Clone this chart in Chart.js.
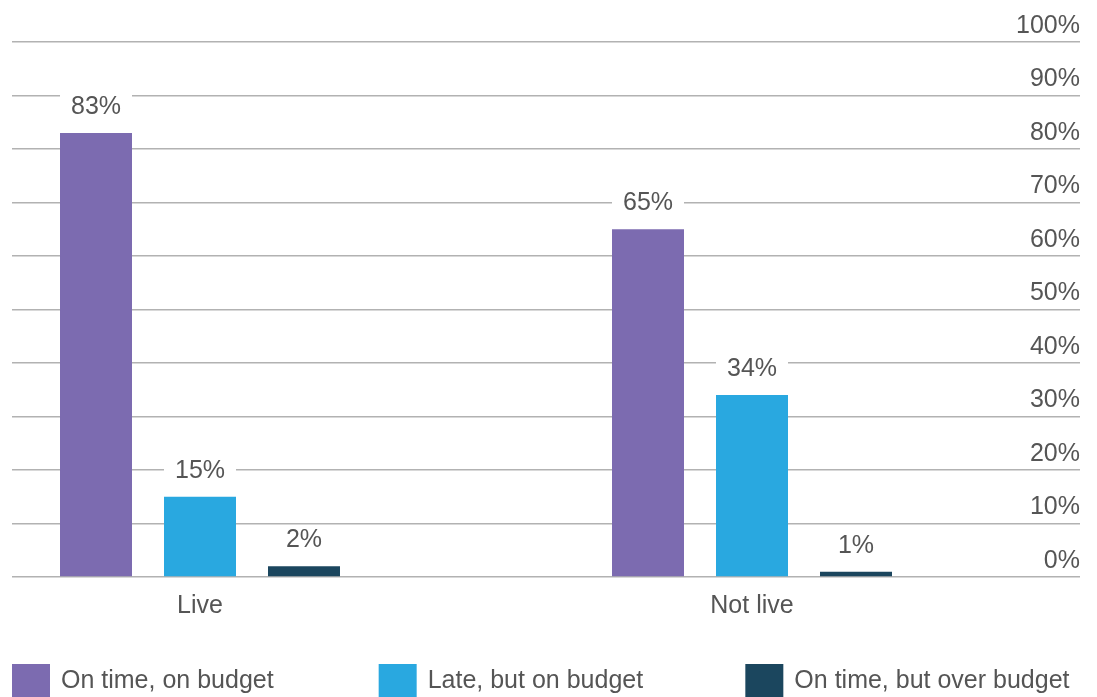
<!DOCTYPE html>
<html>
<head>
<meta charset="utf-8">
<script src="https://cdn.jsdelivr.net/npm/chart.js@4"></script>
<style>
  html, body { margin: 0; padding: 0; background: #fff; overflow: hidden; }
  #wrap { width: 1097px; height: 697px; }
</style>
</head>
<body>
<div id="wrap"><canvas id="c" width="1097" height="697"></canvas></div>
<script>
const categories = ['Live', 'Not live'];
const seriesNames = ['On time, on budget', 'Late, but on budget', 'On time, but over budget'];
const onTimeOnBudget = [83, 65];
const lateOnBudget = [15, 34];
const onTimeOverBudget = [2, 1];
const yTicks = [0, 10, 20, 30, 40, 50, 60, 70, 80, 90, 100];
const colors = ['#7C6BB0', '#29A8E0', '#1B465E'];

const FONT = 'Liberation Sans, Arial, sans-serif';
const TEXT = '#555555';

function toPoints(arr) { return arr.map((v, i) => ({ x: i, y: v })); }

const valueLabels = {
  id: 'valueLabels',
  afterDatasetsDraw(chart) {
    const ctx = chart.ctx;
    ctx.save();
    ctx.font = '25px ' + FONT;
    ctx.textAlign = 'center';
    ctx.textBaseline = 'middle';
    chart.data.datasets.forEach((ds, di) => {
      const meta = chart.getDatasetMeta(di);
      meta.data.forEach((bar, i) => {
        const cy = bar.y - 26;
        ctx.fillStyle = '#ffffff';
        ctx.fillRect(bar.x - bar.width / 2, cy - 14, bar.width, 28);
        ctx.fillStyle = TEXT;
        ctx.fillText(ds.data[i].y + '%', bar.x, cy);
      });
    });
    ctx.restore();
  }
};

const bottomLegend = {
  id: 'bottomLegend',
  afterDraw(chart) {
    const ctx = chart.ctx;
    const area = chart.chartArea;
    const colW = (area.right - area.left + 32) / 3;
    const top = 664;
    ctx.save();
    ctx.font = '25px ' + FONT;
    ctx.textAlign = 'left';
    ctx.textBaseline = 'middle';
    chart.data.datasets.forEach((ds, i) => {
      const x = area.left + i * colW;
      ctx.fillStyle = ds.backgroundColor;
      ctx.fillRect(x, top, 38, 34);
      ctx.fillStyle = TEXT;
      ctx.fillText(ds.label, x + 49, top + 17);
    });
    ctx.restore();
  }
};

new Chart(document.getElementById('c'), {
  type: 'bar',
  data: {
    datasets: [
      { label: seriesNames[0], data: toPoints(onTimeOnBudget), backgroundColor: colors[0] },
      { label: seriesNames[1], data: toPoints(lateOnBudget), backgroundColor: colors[1] },
      { label: seriesNames[2], data: toPoints(onTimeOverBudget), backgroundColor: colors[2] }
    ]
  },
  options: {
    responsive: false,
    animation: false,
    categoryPercentage: 0.5652,
    barPercentage: 0.6923,
    layout: { padding: { top: 42, left: 12, right: 17, bottom: 62 } },
    plugins: {
      legend: { display: false },
      tooltip: { enabled: false }
    },
    scales: {
      x: {
        type: 'linear',
        position: 'bottom',
        offset: false,
        min: -0.34058,
        max: 1.5942,
        afterBuildTicks(scale) { scale.ticks = categories.map((c, i) => ({ value: i })); },
        ticks: {
          callback: (v) => categories[v] !== undefined ? categories[v] : '',
          font: { family: FONT, size: 25 },
          color: TEXT,
          padding: 14,
          maxRotation: 0,
          autoSkip: false
        },
        grid: { display: false, drawTicks: false },
        border: { display: false }
      },
      y: {
        position: 'right',
        min: 0,
        max: 100,
        afterBuildTicks(scale) { scale.ticks = yTicks.map(v => ({ value: v })); },
        ticks: {
          mirror: true,
          padding: 0,
          labelOffset: -16,
          callback: (v) => v + '%',
          font: { family: FONT, size: 25 },
          color: TEXT
        },
        grid: { color: '#b2b2b2', lineWidth: 1.5, drawTicks: false },
        border: { display: false }
      }
    }
  },
  plugins: [valueLabels, bottomLegend]
});
</script>
</body>
</html>
